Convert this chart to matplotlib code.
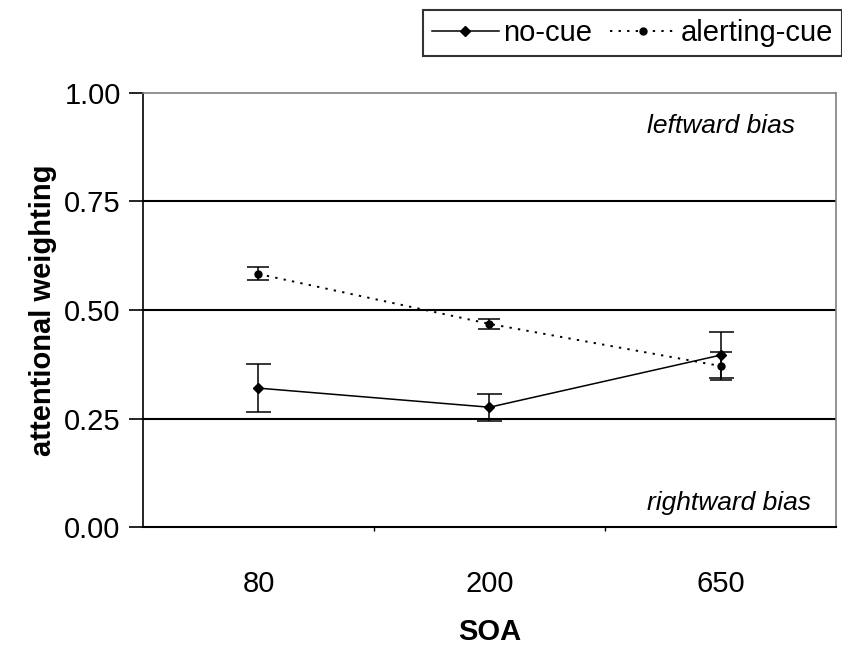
import matplotlib.pyplot as plt
from matplotlib.lines import Line2D

plt.rcParams['font.family'] = ['Liberation Sans', 'DejaVu Sans']

soa_labels = ['80', '200', '650']
no_cue = [0.320, 0.276, 0.396]
no_cue_err = [0.055, 0.031, 0.053]
alerting = [0.583, 0.468, 0.371]
alerting_err = [0.015, 0.011, 0.033]
y_ticks = [0.0, 0.25, 0.5, 0.75, 1.0]

xs = list(range(len(soa_labels)))

fig = plt.figure(figsize=(8.42, 6.48), dpi=100)
ax = fig.add_axes([0.1698, 0.1867, 0.8231, 0.6698])

# reference lines (Excel style gridlines)
for yv in y_ticks[1:-1]:
    ax.axhline(yv, color='black', lw=1.5, zorder=1)

ax.errorbar(xs, no_cue, yerr=no_cue_err, color='black', lw=1.1,
            marker='D', ms=5, capsize=9, elinewidth=1.1, capthick=1.1, zorder=3)
ax.errorbar(xs, alerting, yerr=alerting_err, color='black', lw=1.4,
            ls=(0, (1.2, 3.2)), marker='o', ms=5, capsize=8,
            elinewidth=1.1, capthick=1.1, zorder=3)

ax.set_xlim(-0.5, 2.5)
ax.set_ylim(0, 1)
ax.set_yticks(y_ticks)
ax.set_yticklabels(['%.2f' % v for v in y_ticks])
ax.set_xticks(xs)
ax.set_xticklabels(soa_labels)
ax.set_xticks([0.5, 1.5], minor=True)
ax.tick_params(axis='x', which='major', length=0, pad=31, labelsize=21)
ax.tick_params(axis='x', which='minor', length=3, width=1)
ax.tick_params(axis='y', length=10, width=1.2, pad=6, labelsize=21)

for side in ['top', 'right']:
    ax.spines[side].set_color('#808080')
    ax.spines[side].set_linewidth(1.2)
ax.spines['left'].set_linewidth(1.2)
ax.spines['bottom'].set_linewidth(1.5)

ax.set_xlabel('SOA', fontsize=21, fontweight='bold', labelpad=14)
ax.set_ylabel('attentional weighting', fontsize=21, fontweight='bold', labelpad=5)

ax.text(2.0, 0.925, 'leftward bias', fontsize=19, style='italic',
        ha='center', va='center')
ax.text(2.035, 0.055, 'rightward bias', fontsize=19, style='italic',
        ha='center', va='center')

handles = [Line2D([0], [0], color='black', lw=1.1, marker='D', ms=5),
           Line2D([0], [0], color='black', lw=1.4, ls=(0, (1.2, 3.2)), marker='o', ms=5)]
leg = fig.legend(handles, ['no-cue', 'alerting-cue'], loc='upper left',
                 bbox_to_anchor=(423 / 842, 1 - 10 / 648), ncol=2, fontsize=21,
                 frameon=True, fancybox=False, edgecolor='black',
                 handlelength=2.3, handletextpad=0.15, columnspacing=0.6,
                 borderpad=0.3, borderaxespad=0)
leg.get_frame().set_linewidth(1.5)

fig.savefig('out.png', dpi=100)
